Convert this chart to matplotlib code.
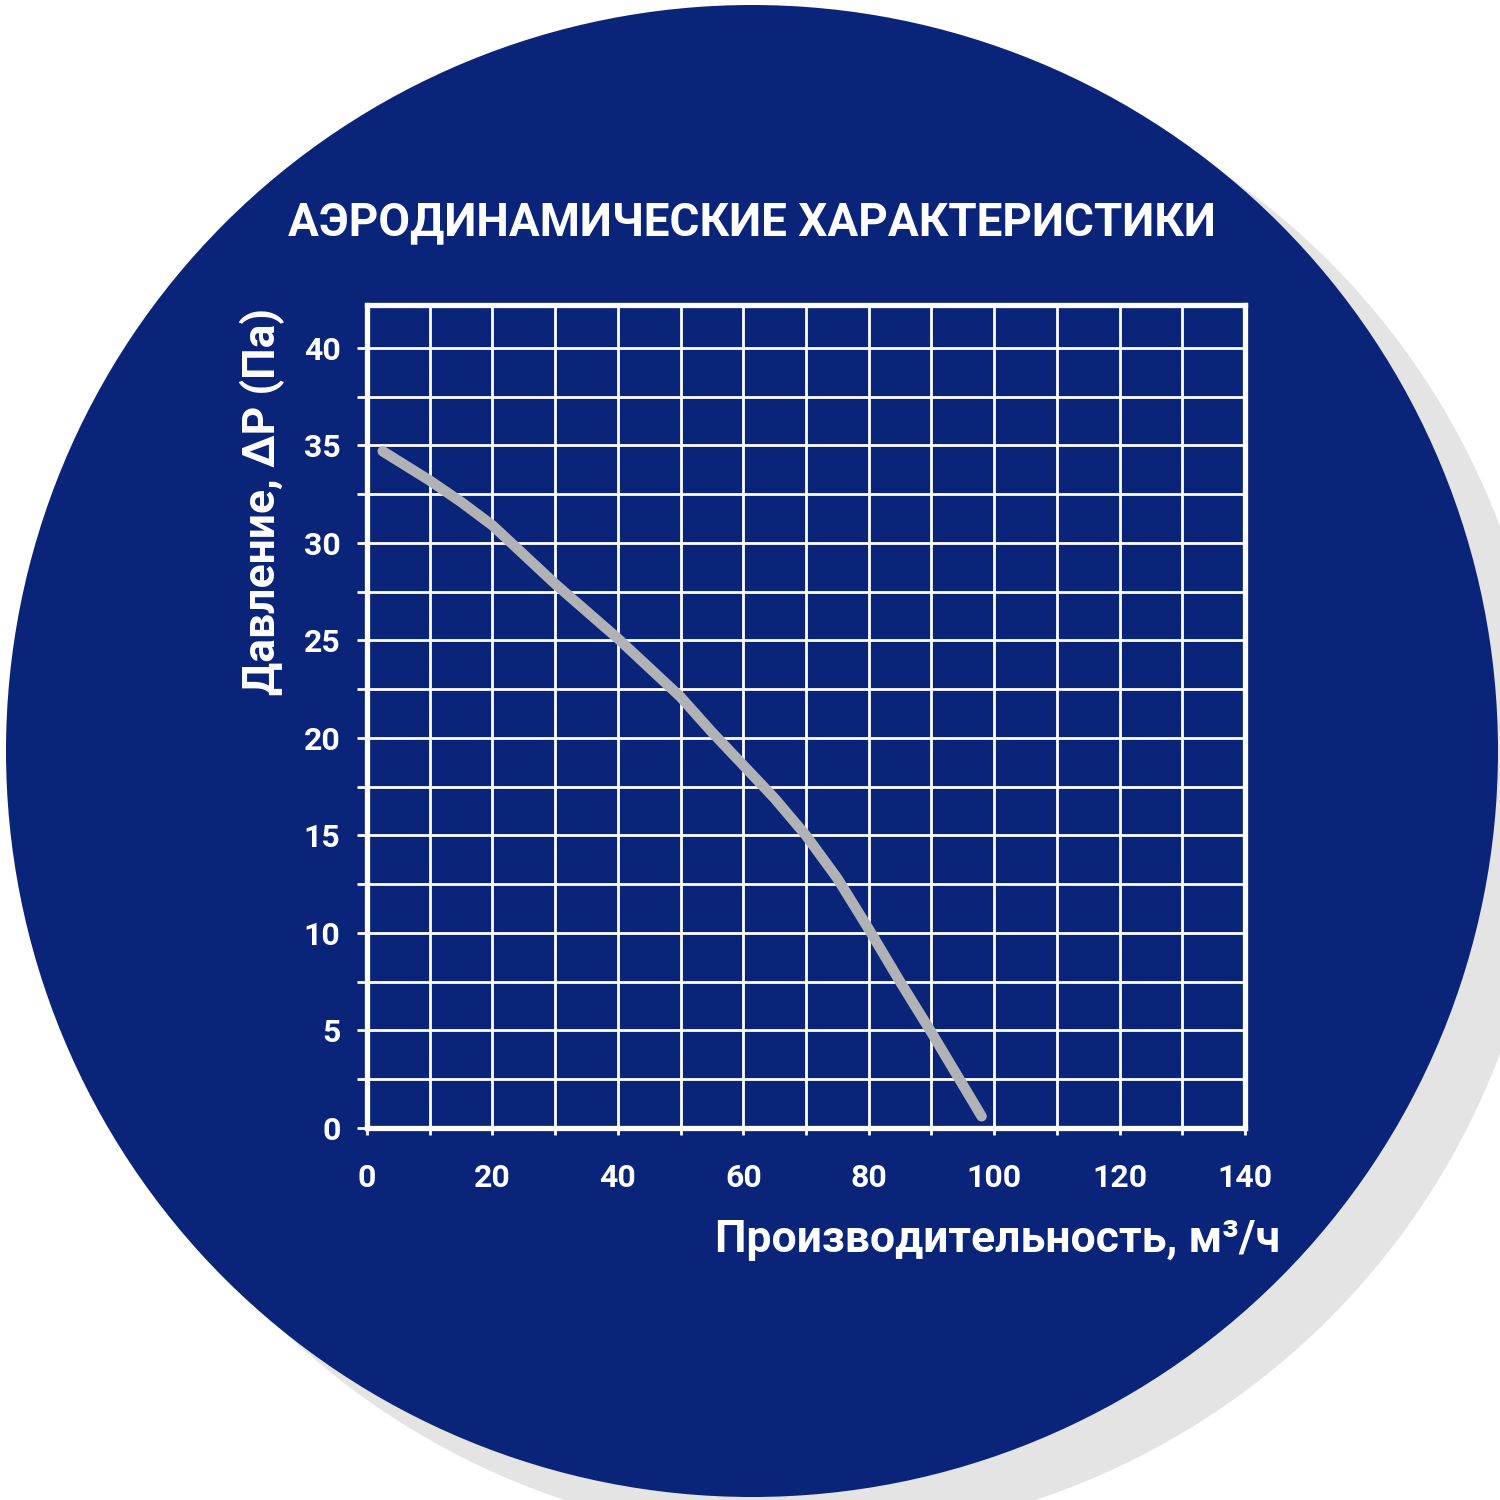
import numpy as np
import matplotlib

matplotlib.use("Agg")
import matplotlib.pyplot as plt
from matplotlib.patches import Circle

# fan curve: airflow (m3/h) vs static pressure (Pa)
flow = [2.5, 10, 15, 20, 25, 30, 40, 50, 55, 60, 65, 70, 75, 80, 85, 90, 98]
pressure = [34.7, 33.2, 32.1, 30.9, 29.4, 27.9, 25.1, 22.1, 20.3, 18.6, 16.9, 15.0, 12.8, 10.2, 7.5, 4.9, 0.6]

x_major = [0, 20, 40, 60, 80, 100, 120, 140]
x_minor = [10, 30, 50, 70, 90, 110, 130]
y_major = [0, 5, 10, 15, 20, 25, 30, 35, 40]
y_minor = [2.5, 7.5, 12.5, 17.5, 22.5, 27.5, 32.5, 37.5]

title = "АЭРОДИНАМИЧЕСКИЕ ХАРАКТЕРИСТИКИ"
xlabel = "Производительность, м³/ч"
ylabel = "Давление, ΔP (Па)"

BLUE = "#0a2479"
WHITE = "white"
CURVE = "#b1b2b6"
FONT = ["Roboto", "DejaVu Sans"]

W = 1500
fig = plt.figure(figsize=(15, 15), dpi=100)
fig.patch.set_facecolor("white")

# background disc with a soft grey shadow to the lower right
bg = fig.add_axes([0, 0, 1, 1])
bg.set_xlim(0, W)
bg.set_ylim(W, 0)
bg.axis("off")
bg.add_patch(Circle((800, 790), 748, color="#e4e4e4", lw=0))
bg.add_patch(Circle((752, 751), 746, color=BLUE, lw=0))

# plot frame in pixel terms: x 367..1245, y 305..1128
ax = fig.add_axes([367 / W, 1 - 1128 / W, (1245 - 367) / W, (1128 - 305) / W])
ax.set_facecolor("none")
ax.set_xlim(0, 140)
ax.set_ylim(0, 42.2)
ax.set_axisbelow(True)

ax.plot(flow, pressure, color=CURVE, lw=7.5, solid_capstyle="round",
        solid_joinstyle="round", zorder=3)

ax.set_xticks(x_major)
ax.set_xticks(x_minor, minor=True)
ax.set_yticks(y_major)
ax.set_yticks(y_minor, minor=True)
ax.grid(which="both", color=WHITE, lw=2)

ax.tick_params(axis="x", which="both", colors=WHITE, width=2, length=5, pad=20)
ax.tick_params(axis="y", which="both", colors=WHITE, width=2, length=7, pad=12)
for lab in ax.get_xticklabels() + ax.get_yticklabels():
    lab.set_fontfamily(FONT)
    lab.set_fontweight("bold")
    lab.set_fontsize(23)
    lab.set_color(WHITE)

for sp in ax.spines.values():
    sp.set_color(WHITE)
    sp.set_linewidth(3.8)

fig.text(752 / W, 1 - 222 / W, title, ha="center", va="center",
         color=WHITE, fontsize=33, fontweight="bold", family=FONT)
fig.text(1280 / W, 1 - 1240 / W, xlabel, ha="right", va="center",
         color=WHITE, fontsize=32, fontweight="bold", family=FONT)
fig.text(262 / W, 1 - 501 / W, ylabel, ha="center", va="center", rotation=90,
         color=WHITE, fontsize=32, fontweight="bold", family=FONT)

fig.savefig("out.png", dpi=100)
